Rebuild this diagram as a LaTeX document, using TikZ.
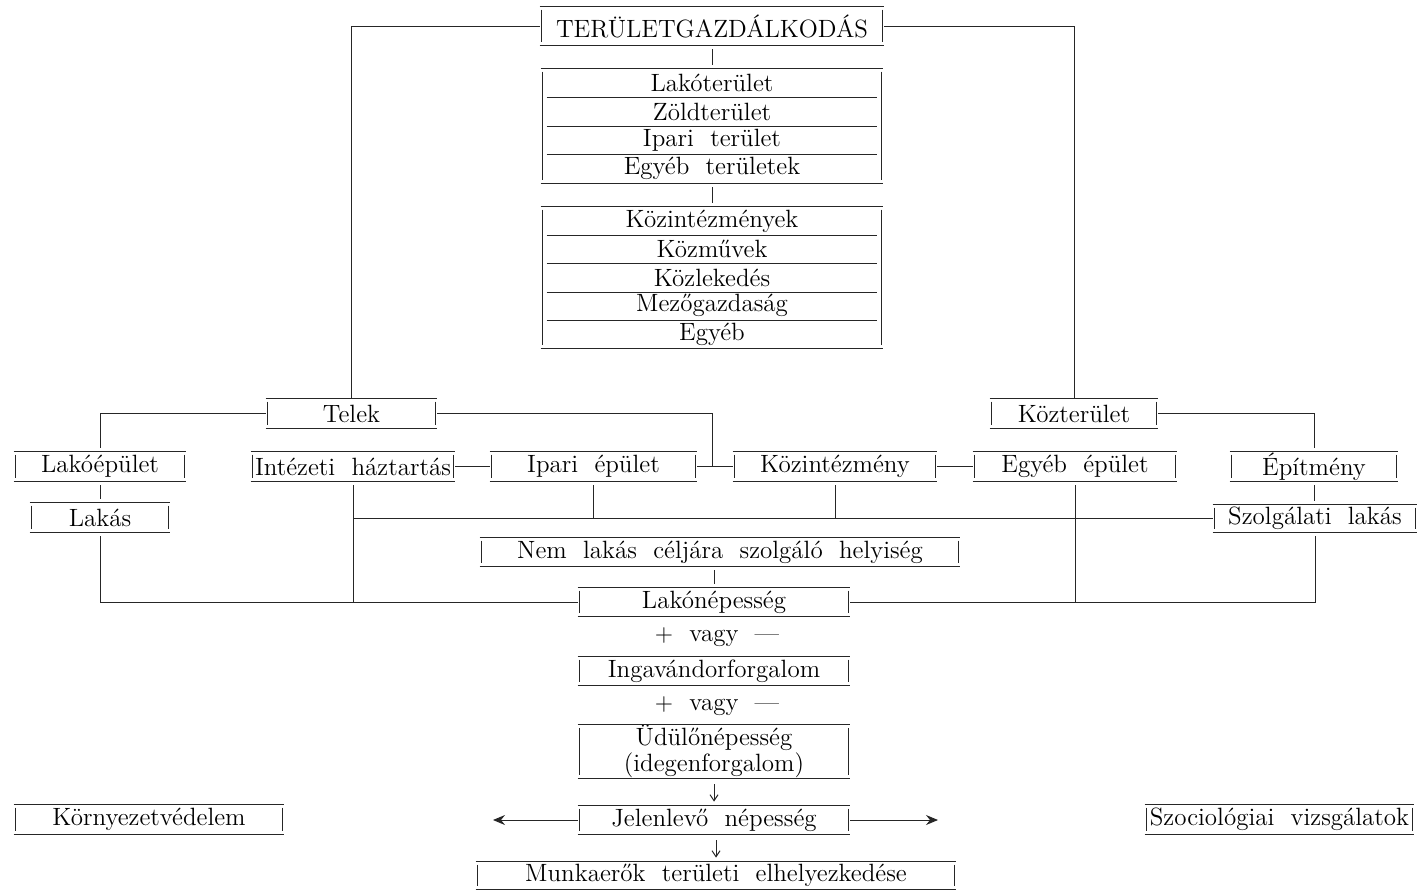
\documentclass[tikz,border=0pt]{standalone}
\usetikzlibrary{arrows.meta}
\newcommand\fs{\fontsize{12.5}{11.5}\selectfont}
\tikzset{
  ln/.style={line width=0.5pt, draw=black!85},
  bxn/.style={inner sep=0pt, font=\fs, align=center},
  gap/.style={shorten <=2pt, shorten >=2pt},
  tip/.style={-{Straight Barb[length=3pt,width=4pt]}},
  htip/.style={-{Stealth[length=6pt,width=5pt,inset=2pt]}},
}
\newcommand\MyBox[6]{%
  \node[bxn, minimum width={(#3-#2)*0.5pt}, minimum height={(#5-#4)*0.5pt}] (#1) at ({(#2+#3)/2},{(#4+#5)/2}) {#6};
  \draw[ln] (#1.north west) -- (#1.north east) (#1.south west) -- (#1.south east)
    ([shift={(2,3)}]#1.north west) -- ([shift={(2,-3)}]#1.south west)
    ([shift={(-2,3)}]#1.north east) -- ([shift={(-2,-3)}]#1.south east);
}
\newcommand\MyRow[6]{%
  \node[bxn, minimum width={(#3-#2)*0.5pt}, minimum height={(#5-#4)*0.5pt}] (#1) at ({(#2+#3)/2},{(#4+#5)/2}) {#6};
}
\begin{document}
\begin{tikzpicture}[x=0.5pt, y=-0.5pt]
\useasboundingbox (0,0) rectangle (1419,891);

% top
\MyBox{tg}{540}{884}{7}{45}{TERÜLETGAZDÁLKODÁS}

% group 1
\MyRow{a1}{541}{883}{69}{97.5}{Lakóterület}
\MyRow{a2}{541}{883}{97.5}{126}{Zöldterület}
\MyRow{a3}{541}{883}{126}{154.5}{Ipari\ \ terület}
\MyRow{a4}{541}{883}{154.5}{183}{Egyéb\ \ területek}
\draw[ln] (a1.north west) -- (a1.north east) (a4.south west) -- (a4.south east)
  ([shift={(2,3)}]a1.north west) -- ([shift={(2,-3)}]a4.south west)
  ([shift={(-2,3)}]a1.north east) -- ([shift={(-2,-3)}]a4.south east);
\foreach \r in {a1,a2,a3}
  \draw[ln] ([xshift=3pt]\r.south west) -- ([xshift=-3pt]\r.south east);

% group 2
\MyRow{b1}{541}{883}{207}{235.2}{Közintézmények}
\MyRow{b2}{541}{883}{235.2}{263.4}{Közművek}
\MyRow{b3}{541}{883}{263.4}{291.6}{Közlekedés}
\MyRow{b4}{541}{883}{291.6}{319.8}{Mezőgazdaság}
\MyRow{b5}{541}{883}{319.8}{348}{Egyéb}
\draw[ln] (b1.north west) -- (b1.north east) (b5.south west) -- (b5.south east)
  ([shift={(2,3)}]b1.north west) -- ([shift={(2,-3)}]b5.south west)
  ([shift={(-2,3)}]b1.north east) -- ([shift={(-2,-3)}]b5.south east);
\foreach \r in {b1,b2,b3,b4}
  \draw[ln] ([xshift=3pt]\r.south west) -- ([xshift=-3pt]\r.south east);

\draw[ln, gap] (tg.south -| a1.north) -- (a1.north);
\draw[ln, gap] (a4.south) -- (b1.north);

% second level
\MyBox{telek}{266}{437}{399}{428}{Telek}
\MyBox{kozter}{990}{1158}{399}{428}{Közterület}

\draw[ln] (tg.west) -| (telek.north);
\draw[ln] (tg.east) -| (kozter.north);

% third level
\MyBox{lakoep}{14}{186}{452}{481}{Lakóépület}
\MyBox{intez}{251}{455}{452}{481}{Intézeti\ \ háztartás}
\MyBox{ipari}{490}{697}{452}{481}{Ipari\ \ épület}
\MyBox{kozint}{733}{937}{452}{481}{Közintézmény}
\MyBox{egyeb}{973}{1177}{452}{481}{Egyéb\ \ épület}
\MyBox{epitm}{1230}{1398}{452}{481}{Építmény}

\MyBox{lakas}{30}{170}{503}{532}{Lakás}
\MyBox{szolg}{1213}{1417}{505}{532}{Szolgálati\ \ lakás}

\coordinate (j1) at (712,466);
\draw[ln, shorten >=2pt] (telek.west) -| (lakoep.north);
\draw[ln] (telek.east) -| (j1);
\draw[ln, shorten >=2pt] (kozter.east) -| (epitm.north);
\draw[ln] (intez.east) -- (ipari.west);
\draw[ln] (ipari.east) -- (kozint.west);
\draw[ln] (kozint.east) -- (egyeb.west);

\draw[ln, gap] (lakoep.south) -- (lakas.north);
\draw[ln, gap] (epitm.south) -- (epitm.south |- szolg.north);

% horizontal at Szolgálati lakás level
\draw[ln] (intez.south |- szolg.west) -- (szolg.west);
\draw[ln, shorten <=2pt] (ipari.south) -- (ipari.south |- szolg.west);
\draw[ln, shorten <=2pt] (kozint.south) -- (kozint.south |- szolg.west);

\MyBox{nemlak}{480}{960}{538}{566}{Nem\ \ lakás\ \ céljára\ \ szolgáló\ \ helyiség}
\MyBox{lakonep}{578}{850}{588}{616}{Lakónépesség}
\draw[ln, gap] (nemlak.south -| lakonep.north) -- (lakonep.north);

\draw[ln, shorten <=2pt] (lakas.south) |- (lakonep.west);
\draw[ln, shorten <=2pt] (intez.south) -- (intez.south |- lakonep.west);
\draw[ln, shorten <=2pt] (egyeb.south) -- (egyeb.south |- lakonep.east);
\draw[ln, shorten <=2pt] (szolg.south) |- (lakonep.east);

% lower chain
\node[bxn] (pv1) at (717,637) {$+$\ \ vagy\ \ —};
\MyBox{inga}{578}{850}{657}{685}{Ingavándorforgalom}
\node[bxn] (pv2) at (717,706) {$+$\ \ vagy\ \ —};
\MyBox{udulo}{578}{850}{726}{777}{Üdülőnépesség\\(idegenforgalom)}
\MyBox{jelen}{578}{850}{806}{834}{Jelenlevő\ \ népesség}
\MyBox{munka}{476}{956}{862}{889}{Munkaerők\ \ területi\ \ elhelyezkedése}

\draw[ln, tip, shorten <=3pt, shorten >=2pt] (udulo.south -| jelen.north) -- (jelen.north);
\draw[ln, tip, shorten <=3pt, shorten >=2pt] (jelen.south -| munka.north) -- (munka.north);

\coordinate (la) at (493,820);
\coordinate (ra) at (938,820);
\draw[ln, htip] (jelen.west) -- (la);
\draw[ln, htip] (jelen.east) -- (ra);

\MyBox{korny}{14}{284}{805}{834}{Környezetvédelem}
\MyBox{szoc}{1145}{1414}{805}{834}{Szociológiai\ \ vizsgálatok}
\end{tikzpicture}
\end{document}
